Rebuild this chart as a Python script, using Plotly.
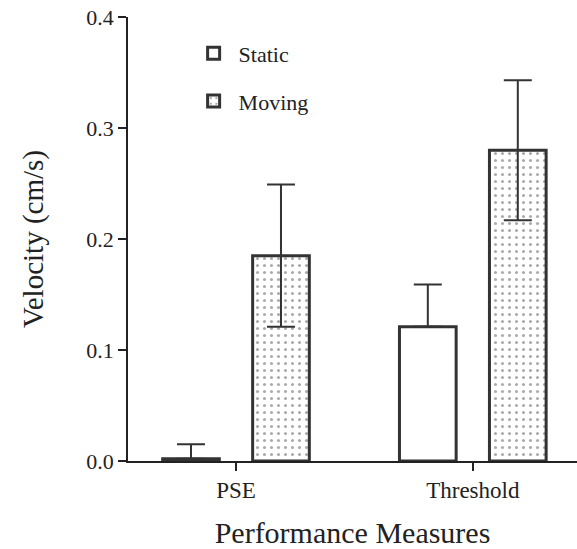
import plotly.graph_objects as go

# Performance measures (categories) and mean velocities with SEM
categories = ["PSE", "Threshold"]
static_mean = [0.002, 0.121]
static_err = [0.013, 0.038]
moving_mean = [0.185, 0.280]
moving_err = [0.064, 0.063]

y_ticks = [0.0, 0.1, 0.2, 0.3, 0.4]
y_tick_text = ["0.0", "0.1", "0.2", "0.3", "0.4"]

x_pos = list(range(len(categories)))
line_col = "#333333"
serif = "'Times New Roman', 'Liberation Serif', Tinos, 'DejaVu Serif', 'Noto Serif', serif"

fig = go.Figure()
fig.add_trace(go.Bar(
    x=x_pos, y=static_mean, name="Static", legendgroup="static",
    marker=dict(color="white", line=dict(color=line_col, width=3)),
    error_y=dict(type="data", array=static_err, arrayminus=[0] * len(static_err),
                 color=line_col, thickness=2, width=14),
))
fig.add_trace(go.Bar(
    x=x_pos, y=moving_mean, name="Moving", legendgroup="moving",
    marker=dict(color="white", line=dict(color=line_col, width=3),
                pattern=dict(shape=".", fgcolor="#555555", bgcolor="white",
                             size=7, solidity=0.15)),
    error_y=dict(type="data", array=moving_err, color=line_col,
                 thickness=2, width=14),
))

fig.update_layout(
    width=577, height=549,
    margin=dict(l=128, r=0, t=17, b=88),
    paper_bgcolor="white", plot_bgcolor="white",
    barmode="group", bargap=0.24, bargroupgap=0.37,
    font=dict(family=serif, color="#222222", size=18),
    showlegend=True,
    legend=dict(x=0.135, y=0.965, xanchor="left", yanchor="top",
                font=dict(size=22, family=serif), traceorder="grouped",
                tracegroupgap=16, itemwidth=40, bgcolor="rgba(0,0,0,0)"),
    xaxis=dict(
        range=[-0.456, 1.44], tickmode="array", tickvals=x_pos,
        ticktext=categories, showline=True, linecolor="#222222", linewidth=1.5,
        ticks="outside", ticklen=8, tickwidth=1.5, tickcolor="#222222",
        showgrid=False, zeroline=False,
        tickfont=dict(size=23, family=serif),
        title=dict(text="Performance Measures", font=dict(size=30, family=serif),
                   standoff=22),
    ),
    yaxis=dict(
        range=[0, 0.4], tickmode="array", tickvals=y_ticks, ticktext=y_tick_text,
        showline=True, linecolor="#222222", linewidth=1.5,
        ticks="outside", ticklen=8, tickwidth=1.5, tickcolor="#222222",
        showgrid=False, zeroline=False,
        tickfont=dict(size=22, family=serif),
        title=dict(text="Velocity (cm/s)", font=dict(size=29, family=serif),
                   standoff=34),
    ),
)

fig.write_html("out.html")
